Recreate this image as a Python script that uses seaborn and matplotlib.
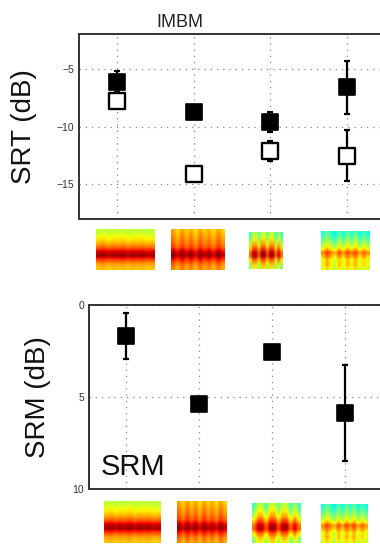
import matplotlib
matplotlib.use("Agg")
import matplotlib.pyplot as plt
import numpy as np
import pandas as pd
import seaborn as sns

# masker conditions (x positions 1..4)
conditions = [1, 2, 3, 4]

# SRT panel (dB): filled and open squares
srt_filled = [-6.1, -8.7, -9.6, -6.6]
srt_filled_err = [0.9, 0.0, 0.9, 2.3]
srt_open = [-7.8, -14.1, -12.1, -12.5]
srt_open_err = [0.0, 0.0, 0.9, 2.2]

# SRM panel (dB)
srm = [1.7, 5.4, 2.55, 5.9]
srm_err = [1.25, 0.0, 0.3, 2.6]

srt_ticks = [-15, -10, -5]
srm_ticks = [0, 5, 10]

# spectrogram thumbnails: vertical level profile (top -> bottom) and
# a column modulation, both hand-typed
thumb_rows = [
    [0.58, 0.62, 0.66, 0.72, 0.80, 0.92, 0.97, 0.84, 0.74, 0.70],
    [0.70, 0.73, 0.75, 0.78, 0.82, 0.92, 0.96, 0.86, 0.78, 0.74],
    [0.52, 0.56, 0.62, 0.68, 0.78, 0.88, 0.90, 0.76, 0.66, 0.60],
    [0.42, 0.46, 0.52, 0.58, 0.66, 0.80, 0.74, 0.66, 0.68, 0.64],
]
thumb_cols = [
    [0.00, 0.02, -0.01, 0.01, 0.00, 0.02, -0.01, 0.01, 0.00, 0.01, -0.01, 0.00],
    [0.04, -0.03, 0.05, -0.02, 0.04, -0.04, 0.05, -0.02, 0.03, -0.04, 0.05, -0.02],
    [-0.10, 0.06, 0.06, -0.08, 0.08, 0.08, -0.06, 0.07, 0.07, -0.10, 0.04, -0.10],
    [-0.04, 0.06, -0.02, -0.08, 0.04, -0.06, 0.05, -0.03, 0.06, -0.07, 0.02, -0.05],
]

sns.set_style("white")
plt.rcParams["font.family"] = ["Liberation Sans", "DejaVu Sans"]

fig = plt.figure(figsize=(3.8, 5.45), dpi=100)
ax_top = fig.add_axes([0.208, 0.598, 0.805, 0.339])
ax_bot = fig.add_axes([0.234, 0.103, 0.771, 0.338])

spine_col = "#333333"


def style_axis(ax, ticks, label):
    ax.set_xlim(0.5, 4.5)
    ax.set_xticks(conditions)
    ax.set_xticklabels([])
    ax.set_yticks(ticks)
    ax.set_yticklabels([f"{t}".replace("-", "\u2212") for t in ticks])
    ax.tick_params(axis="y", labelsize=7.5, colors="#333333", length=3, direction="in")
    ax.tick_params(axis="x", length=3, direction="in", colors=spine_col)
    ax.grid(True, linestyle=(0, (1, 4)), color="#888888", linewidth=0.9)
    for side in ["left", "bottom", "top"]:
        ax.spines[side].set_color(spine_col)
        ax.spines[side].set_linewidth(1.4)
    ax.spines["right"].set_visible(False)
    ax.set_ylabel(label, fontsize=20, color="#111111")
    ax.set_xlabel("")


# top panel: SRT
df_f = pd.DataFrame({"x": conditions, "y": srt_filled, "e": srt_filled_err})
df_o = pd.DataFrame({"x": conditions, "y": srt_open, "e": srt_open_err})
for df in (df_f, df_o):
    m = df["e"] > 0
    ax_top.errorbar(df.loc[m, "x"], df.loc[m, "y"], yerr=df.loc[m, "e"], fmt="none",
                    ecolor="black", elinewidth=1.6, capsize=2.5, capthick=1.6, zorder=3)
sns.scatterplot(data=df_f, x="x", y="y", marker="s", s=135, color="black",
                edgecolor="black", linewidth=1.2, ax=ax_top, zorder=4)
sns.scatterplot(data=df_o, x="x", y="y", marker="s", s=130, color="white",
                edgecolor="black", linewidth=1.7, ax=ax_top, zorder=5)
ax_top.set_ylim(-18, -2)
style_axis(ax_top, srt_ticks, "SRT (dB)")
ax_top.yaxis.set_label_coords(-0.137, 0.5)
fig.text(0.474, 0.958, "IMBM", fontsize=13, ha="center", va="center", color="#222222")

# bottom panel: SRM (inverted)
df_m = pd.DataFrame({"x": conditions, "y": srm, "e": srm_err})
m = df_m["e"] > 0
ax_bot.errorbar(df_m.loc[m, "x"], df_m.loc[m, "y"], yerr=df_m.loc[m, "e"], fmt="none",
                ecolor="black", elinewidth=1.6, capsize=2.5, capthick=1.6, zorder=3)
sns.scatterplot(data=df_m, x="x", y="y", marker="s", s=135, color="black",
                edgecolor="black", linewidth=1.2, ax=ax_bot, zorder=4)
ax_bot.set_ylim(10, 0)
style_axis(ax_bot, srm_ticks, "SRM (dB)")
ax_bot.yaxis.set_label_coords(-0.13, 0.5)
ax_bot.text(0.04, 0.12, "SRM", transform=ax_bot.transAxes, fontsize=21,
            color="#111111", ha="left", va="center")

# spectrogram thumbnails (pixel boxes: left, top, right, bottom)
thumb_boxes_top = [(96, 229, 154, 270), (171, 229, 224, 270), (249, 232, 283, 269), (321, 231, 370, 270)]
thumb_boxes_bot = [(104, 501, 161, 543), (177, 501, 227, 543), (252, 503, 300, 543), (321, 504, 368, 543)]

W, H = 380.0, 545.0
for boxes in (thumb_boxes_top, thumb_boxes_bot):
    for (l, t, r, b), rows, cols in zip(boxes, thumb_rows, thumb_cols):
        tax = fig.add_axes([l / W, 1 - b / H, (r - l) / W, (b - t) / H])
        img = np.clip(np.add.outer(rows, cols), 0.35, 1.0)
        tax.imshow(img, aspect="auto", cmap="jet", vmin=0.0, vmax=1.0,
                   interpolation="bilinear")
        tax.set_axis_off()

fig.savefig("out.png", dpi=100)
